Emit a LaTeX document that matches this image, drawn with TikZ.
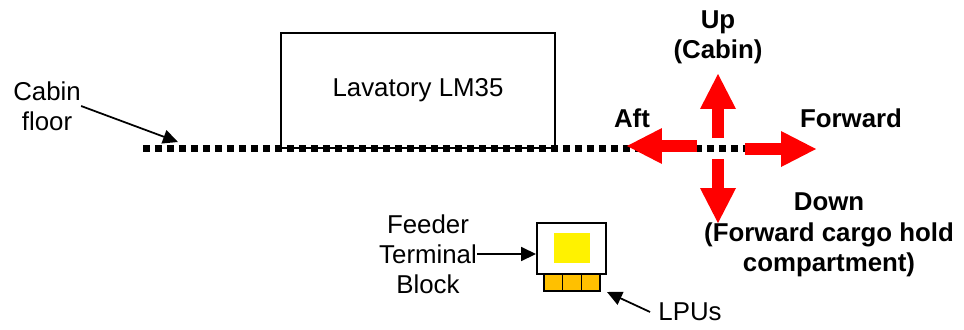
\documentclass[tikz,border=0pt]{standalone}
\usepackage{fontspec}
\setmainfont{Liberation Sans}
\usetikzlibrary{arrows.meta}
\definecolor{lpugold}{RGB}{255,192,0}

\begin{document}
\begin{tikzpicture}[x=0.02cm, y=-0.02cm,
  every node/.style={font=\fontsize{14.7}{17.2}\selectfont, align=center, inner sep=0pt},
  dirlabel/.style={font=\fontsize{14.7}{17.2}\selectfont\bfseries},
  box/.style={draw, line width=0.8pt},
  floorline/.style={line width=0.14cm, dash pattern=on 0.14cm off 0.1cm},
  redarrow/.style={draw=red, line width=0.24cm, -{Triangle[length=0.7cm, width=0.72cm, line width=0pt]}},
  pointer/.style={line width=1pt, -{Triangle[length=0.3cm, width=0.28cm]}}]
\useasboundingbox (0,0) rectangle (964,329);
\node[box, minimum width=5.48cm, minimum height=2.3cm] (Lav) at (418,90.5) {Lavatory LM35};
\coordinate (FloorW) at (143,148);
\coordinate (FloorE) at (745,148);
\draw[floorline] (FloorW) -- (FloorE);
\node (CabinFloor) at (47,106) {Cabin\\floor};
\coordinate (FloorTip) at (178,142);
\draw[pointer] (CabinFloor.east) -- (FloorTip);
\coordinate (UpS) at (718,138);
\coordinate (UpE) at (718,74);
\coordinate (DownS) at (718,159);
\coordinate (DownE) at (718,223);
\coordinate (AftS) at (697,146);
\coordinate (AftE) at (627,146);
\coordinate (FwdS) at (745,149);
\coordinate (FwdE) at (816,149);
\draw[redarrow] (UpS) -- (UpE);
\draw[redarrow] (DownS) -- (DownE);
\draw[redarrow] (AftS) -- (AftE);
\draw[redarrow] (FwdS) -- (FwdE);
\node[dirlabel] (Up) at (718,37) {Up\\(Cabin)};
\node[dirlabel] (Aft) at (632,118) {Aft};
\node[dirlabel] (Fwd) at (851,118) {Forward};
\node[dirlabel] (Down) at (829,235) {Down\\(Forward cargo hold\\compartment)};
\node[draw, line width=1.1pt, minimum width=1.38cm, minimum height=1.02cm] (FTB) at (571.5,248.5) {};
\node[fill=yellow, minimum width=0.72cm, minimum height=0.6cm] (FTBin) at (572,248) {};
\foreach \i in {0,1,2}
  \node[draw, line width=0.8pt, fill=lpugold, minimum width=0.373cm, minimum height=0.34cm] (LPU\i) at (553.3+18.7*\i,282.5) {};
\node (Feeder) at (428,254) {Feeder\\Terminal\\Block};
\draw[pointer] (Feeder.east) -- (Feeder.east -| FTB.west);
\node (LPUs) at (690,312) {LPUs};
\coordinate (LPUtip) at (607,292);
\draw[pointer] ([xshift=-0.16cm]LPUs.west) -- (LPUtip);
\end{tikzpicture}
\end{document}
